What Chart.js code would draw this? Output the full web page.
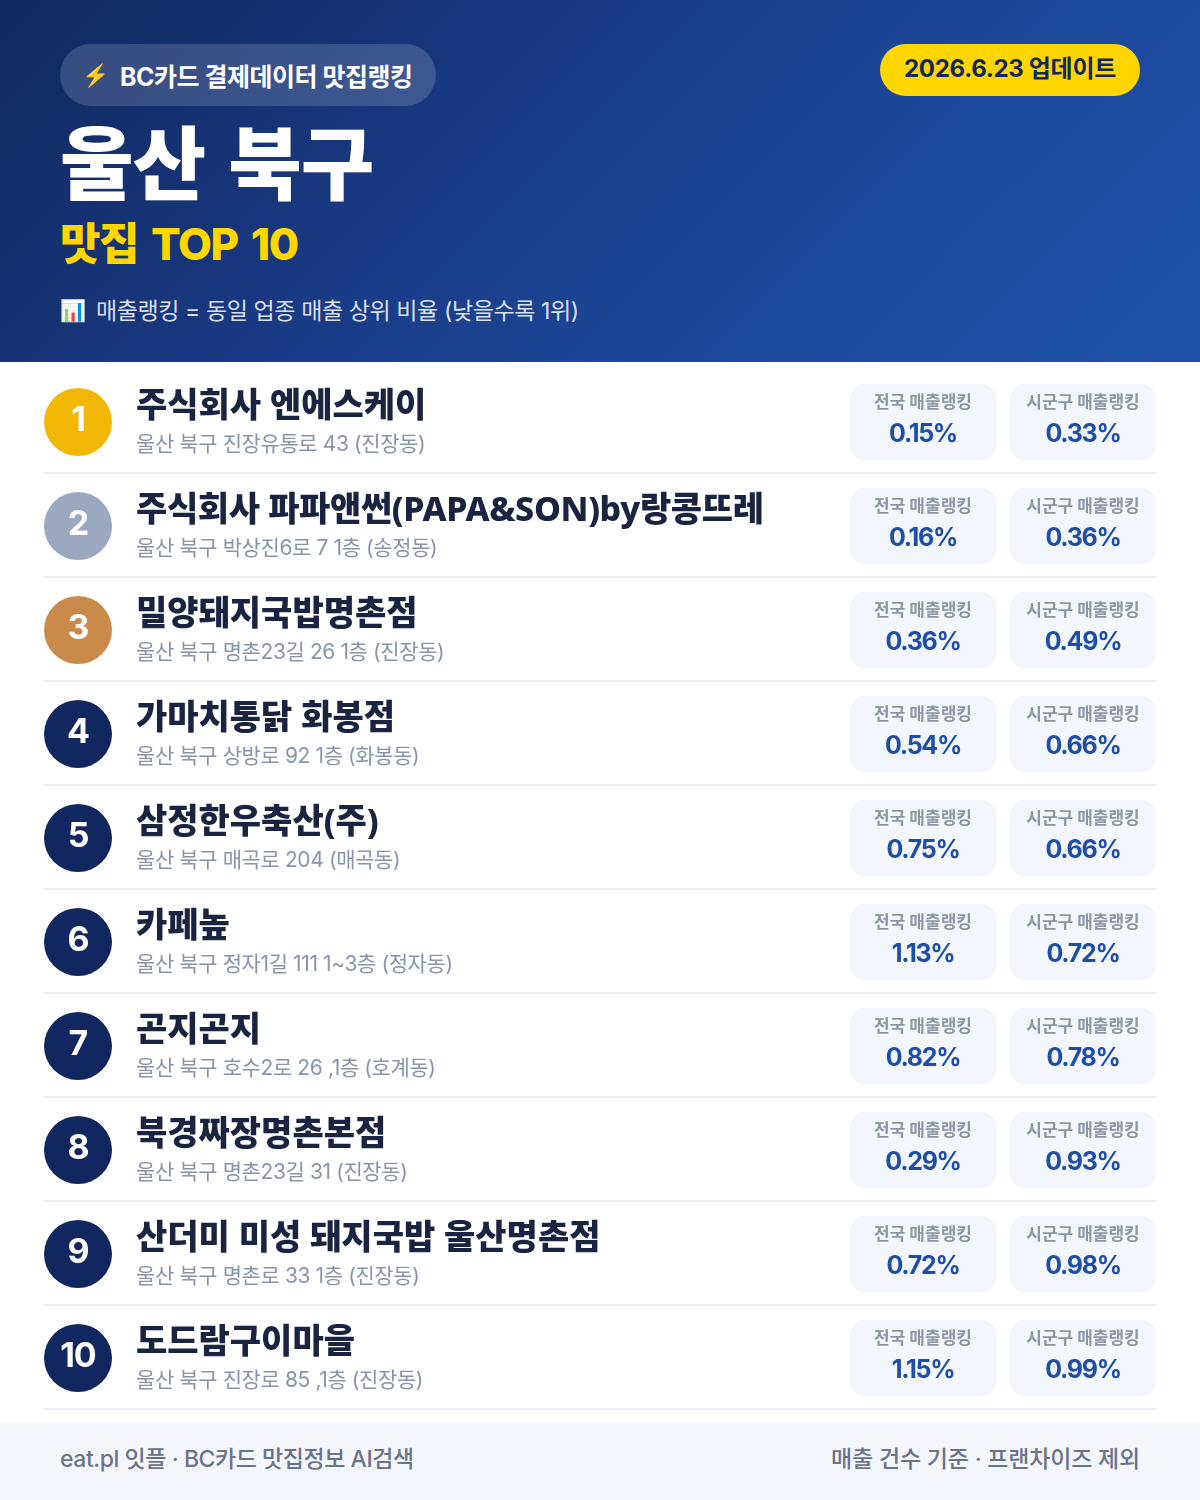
<!DOCTYPE html>
<html lang="ko">
<head>
<meta charset="utf-8">
<title>울산 북구 맛집 TOP 10</title>
<script src="https://cdn.jsdelivr.net/npm/chart.js@4"></script>
<style>
  html, body { margin: 0; padding: 0; background: #fff; }
  body { position: relative; width: 1200px; height: 1500px; overflow: hidden;
         font-family: Inter, "Noto Sans CJK KR", sans-serif; }
  .head { position: absolute; left: 0; top: 0; width: 1200px; height: 362px;
          background: linear-gradient(135deg, #12275f 0%, #1c4597 60%, #1f52a9 100%); }
  .head div, .foot div { position: absolute; white-space: nowrap; }
  .pill { left: 60px; top: 44px; width: 376px; height: 62px; border-radius: 31px; background: rgba(255,255,255,.16); }
  .pilltxt { left: 120px; top: 46px; line-height: 62px; font-size: 25px; font-weight: 700; letter-spacing: -0.5px; color: #fff; }
  .bolt { left: 82px; top: 44px; line-height: 62px; font-size: 22px; }
  .date { left: 880px; top: 44px; width: 260px; height: 52px; line-height: 50px; border-radius: 26px; background: #ffd600;
          text-align: center; font-size: 24px; font-weight: 700; letter-spacing: -0.3px; color: #12275f; }
  .title { left: 60px; top: 109px; line-height: 110px; font-size: 80px; font-weight: 900; letter-spacing: -1px; word-spacing: 8px; color: #fff; }
  .sub { left: 60px; top: 214px; line-height: 60px; font-size: 44px; font-weight: 800; letter-spacing: -1.5px; word-spacing: 5px; color: #ffd600; }
  .icon { left: 60px; top: 293px; line-height: 36px; font-size: 21px; }
  .note { left: 96px; top: 293px; line-height: 36px; font-size: 23px; letter-spacing: -0.4px; color: rgba(255,255,255,.85); }
  .foot { position: absolute; left: 0; top: 1422px; width: 1200px; height: 78px; background: #f4f6fb; }
  .fl { left: 60px; top: 0; line-height: 74px; font-size: 23px; font-weight: 500; letter-spacing: -0.45px; color: #69738a; }
  .fr { right: 60px; top: 0; line-height: 74px; font-size: 23px; font-weight: 500; letter-spacing: -0.2px; color: #69738a; }
  #rank { position: absolute; left: 44px; top: 369px; }
</style>
</head>
<body>
<div class="head">
  <div class="pill"></div>
  <div class="bolt">⚡</div>
  <div class="pilltxt">BC카드 결제데이터 맛집랭킹</div>
  <div class="date">2026.6.23 업데이트</div>
  <div class="title">울산 북구</div>
  <div class="sub">맛집 TOP 10</div>
  <div class="icon">📊</div>
  <div class="note">매출랭킹 = 동일 업종 매출 상위 비율 (낮을수록 1위)</div>
</div>
<canvas id="rank" width="1112" height="1042"></canvas>
<div class="foot">
  <div class="fl">eat.pl 잇플 · BC카드 맛집정보 AI검색</div>
  <div class="fr">매출 건수 기준 · 프랜차이즈 제외</div>
</div>
<script>
var names = ['주식회사 엔에스케이', '주식회사 파파앤썬(PAPA&SON)by랑콩뜨레', '밀양돼지국밥명촌점', '가마치통닭 화봉점', '삼정한우축산(주)',
  '카페높', '곤지곤지', '북경짜장명촌본점', '산더미 미성 돼지국밥 울산명촌점', '도드람구이마을'];
var addresses = ['울산 북구 진장유통로 43 (진장동)', '울산 북구 박상진6로 7 1층 (송정동)', '울산 북구 명촌23길 26 1층 (진장동)', '울산 북구 상방로 92 1층 (화봉동)', '울산 북구 매곡로 204 (매곡동)',
  '울산 북구 정자1길 111 1~3층 (정자동)', '울산 북구 호수2로 26 ,1층 (호계동)', '울산 북구 명촌23길 31 (진장동)', '울산 북구 명촌로 33 1층 (진장동)', '울산 북구 진장로 85 ,1층 (진장동)'];
var nationalRank = [0.15, 0.16, 0.36, 0.54, 0.75, 1.13, 0.82, 0.29, 0.72, 1.15];
var districtRank = [0.33, 0.36, 0.49, 0.66, 0.66, 0.72, 0.78, 0.93, 0.98, 0.99];
var ranks = [1, 2, 3, 4, 5, 6, 7, 8, 9, 10];
var rankColors = ['#f2b705', '#9aa8c0', '#c98a4b', '#12275f', '#12275f', '#12275f', '#12275f', '#12275f', '#12275f', '#12275f'];

// columns of the row layout, on the x scale
var RANK_X = 78, TEXT_X = 136;
var NATIONAL = [850, 996], DISTRICT = [1010, 1156];
var FONT = 'Inter, "Noto Sans CJK KR", sans-serif';
var NAME_FONT = '"Noto Sans", "Noto Sans CJK KR", sans-serif';

function cardData(col) {
  return names.map(function () { return col; });
}

function put(ctx, str, x, y, font, color, align, spacing) {
  ctx.font = font;
  ctx.fillStyle = color;
  ctx.textAlign = align || 'left';
  ctx.letterSpacing = spacing || '0px';
  ctx.fillText(str, x, y);
}

// row texts, placed from the chart's scales
// the marks sit 1px below the divider grid, so the grid is drawn first and the rest is shifted
var rowText = {
  id: 'rowText',
  beforeDatasetsDraw: function (chart) {
    chart.ctx.save();
    chart.ctx.translate(0, 1);
  },
  afterDatasetsDraw: function (chart) {
    var ctx = chart.ctx, xs = chart.scales.x, ys = chart.scales.y;
    ctx.textBaseline = 'alphabetic';
    names.forEach(function (name, i) {
      var y = ys.getPixelForValue(i);
      put(ctx, String(ranks[i]), xs.getPixelForValue(RANK_X), y + 9, '700 34px ' + FONT, '#fff', 'center', '-1px');
      put(ctx, name, xs.getPixelForValue(TEXT_X), y - 5, '800 34px ' + NAME_FONT, '#1a2340', 'left', name.length > 20 ? '-0.36px' : '0px');
      put(ctx, addresses[i], xs.getPixelForValue(TEXT_X), y + 29, '400 21px ' + FONT, '#8a94a8', 'left', '-0.4px');

      var nx = xs.getPixelForValue((NATIONAL[0] + NATIONAL[1]) / 2);
      var dx = xs.getPixelForValue((DISTRICT[0] + DISTRICT[1]) / 2);
      put(ctx, '전국 매출랭킹', nx, y - 14, '700 17px ' + FONT, '#8c95a6', 'center');
      put(ctx, '시군구 매출랭킹', dx, y - 14, '700 17px ' + FONT, '#8c95a6', 'center');
      put(ctx, nationalRank[i].toFixed(2) + '%', nx, y + 20, '700 25px ' + FONT, '#1e4fa8', 'center', '-1.3px');
      put(ctx, districtRank[i].toFixed(2) + '%', dx, y + 20, '700 25px ' + FONT, '#1e4fa8', 'center', '-1.3px');
    });
    ctx.restore();
  }
};

var chRank = new Chart(document.getElementById('rank'), {
  type: 'bar',
  data: {
    labels: names,
    datasets: [
      { label: '전국 매출랭킹', data: cardData(NATIONAL), backgroundColor: '#f3f6fc', grouped: false,
        barThickness: 76, borderRadius: 16, borderSkipped: false },
      { label: '시군구 매출랭킹', data: cardData(DISTRICT), backgroundColor: '#f3f6fc', grouped: false,
        barThickness: 76, borderRadius: 16, borderSkipped: false },
      { type: 'scatter', label: '순위', data: ranks.map(function (r, i) { return { x: RANK_X, y: i }; }),
        backgroundColor: rankColors, borderWidth: 0, pointRadius: 34, pointHoverRadius: 34, clip: false }
    ]
  },
  options: {
    indexAxis: 'y',
    responsive: false,
    animation: false,
    devicePixelRatio: 1,
    layout: { padding: { bottom: 2 }, autoPadding: false },
    plugins: { legend: { display: false }, tooltip: { enabled: false } },
    scales: {
      x: { type: 'linear', min: 44, max: 1156, display: false },
      y: {
        type: 'category',
        offset: true,
        ticks: { display: false },
        border: { display: false },
        grid: {
          offset: true,
          drawTicks: false,
          lineWidth: 2,
          color: function (c) { return c.index === 0 ? 'rgba(0,0,0,0)' : '#eceef2'; }
        }
      }
    }
  },
  plugins: [rowText]
});
</script>
</body>
</html>
